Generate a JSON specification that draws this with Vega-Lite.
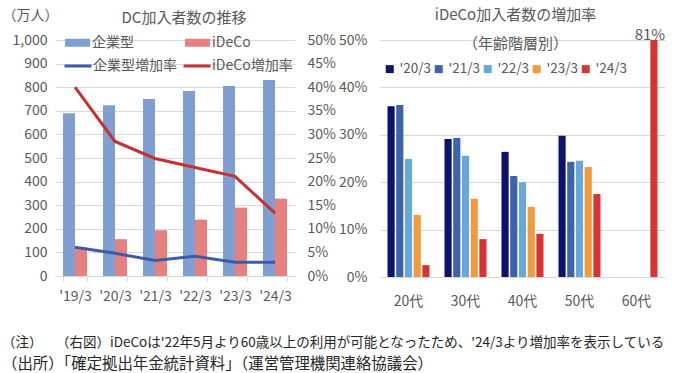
{
  "$schema": "https://vega.github.io/schema/vega-lite/v6.json",
  "padding": {"left": 2, "top": 8, "right": 0, "bottom": 0},
  "config": {
    "font": "Noto Sans CJK JP",
    "view": {"stroke": null},
    "axis": {"labelFontSize": 14, "labelColor": "#595959", "titleColor": "#595959", "titleFontWeight": "normal", "gridColor": "#D9D9D9", "domainColor": "#D9D9D9", "tickColor": "#D9D9D9"},
    "legend": {"labelFontSize": 14, "labelColor": "#595959", "padding": 0, "title": null},
    "title": {"fontWeight": "normal", "color": "#595959", "fontSize": 15}
  },
  "datasets": {
    "dc": [
      {"year": "'19/3", "type": "企業型", "value": 690},
      {"year": "'19/3", "type": "iDeCo", "value": 121},
      {"year": "'20/3", "type": "企業型", "value": 724},
      {"year": "'20/3", "type": "iDeCo", "value": 156},
      {"year": "'21/3", "type": "企業型", "value": 750},
      {"year": "'21/3", "type": "iDeCo", "value": 194},
      {"year": "'22/3", "type": "企業型", "value": 784},
      {"year": "'22/3", "type": "iDeCo", "value": 239},
      {"year": "'23/3", "type": "企業型", "value": 805},
      {"year": "'23/3", "type": "iDeCo", "value": 290},
      {"year": "'24/3", "type": "企業型", "value": 830},
      {"year": "'24/3", "type": "iDeCo", "value": 328}
    ],
    "dcRate": [
      {"year": "'19/3", "series": "企業型増加率", "rate": 0.061},
      {"year": "'20/3", "series": "企業型増加率", "rate": 0.048},
      {"year": "'21/3", "series": "企業型増加率", "rate": 0.033},
      {"year": "'22/3", "series": "企業型増加率", "rate": 0.042},
      {"year": "'23/3", "series": "企業型増加率", "rate": 0.029},
      {"year": "'24/3", "series": "企業型増加率", "rate": 0.029},
      {"year": "'19/3", "series": "iDeCo増加率", "rate": 0.400},
      {"year": "'20/3", "series": "iDeCo増加率", "rate": 0.285},
      {"year": "'21/3", "series": "iDeCo増加率", "rate": 0.249},
      {"year": "'22/3", "series": "iDeCo増加率", "rate": 0.230},
      {"year": "'23/3", "series": "iDeCo増加率", "rate": 0.211},
      {"year": "'24/3", "series": "iDeCo増加率", "rate": 0.133}
    ],
    "age": [
      {"age": "20代", "period": "'20/3", "rate": 0.360},
      {"age": "20代", "period": "'21/3", "rate": 0.363},
      {"age": "20代", "period": "'22/3", "rate": 0.249},
      {"age": "20代", "period": "'23/3", "rate": 0.131},
      {"age": "20代", "period": "'24/3", "rate": 0.025},
      {"age": "30代", "period": "'20/3", "rate": 0.291},
      {"age": "30代", "period": "'21/3", "rate": 0.293},
      {"age": "30代", "period": "'22/3", "rate": 0.256},
      {"age": "30代", "period": "'23/3", "rate": 0.165},
      {"age": "30代", "period": "'24/3", "rate": 0.080},
      {"age": "40代", "period": "'20/3", "rate": 0.264},
      {"age": "40代", "period": "'21/3", "rate": 0.213},
      {"age": "40代", "period": "'22/3", "rate": 0.200},
      {"age": "40代", "period": "'23/3", "rate": 0.148},
      {"age": "40代", "period": "'24/3", "rate": 0.091},
      {"age": "50代", "period": "'20/3", "rate": 0.298},
      {"age": "50代", "period": "'21/3", "rate": 0.243},
      {"age": "50代", "period": "'22/3", "rate": 0.245},
      {"age": "50代", "period": "'23/3", "rate": 0.232},
      {"age": "50代", "period": "'24/3", "rate": 0.175},
      {"age": "60代", "period": "'24/3", "rate": 0.81}
    ]
  },
  "title": {
    "text": "（注）　　（右図）iDeCoは'22年5月より60歳以上の利用が可能となったため、'24/3より増加率を表示している",
    "subtitle": "（出所）「確定拠出年金統計資料」（運営管理機関連絡協議会）",
    "orient": "bottom", "anchor": "start", "frame": "bounds",
    "fontSize": 13.5, "subtitleFontSize": 15.4, "color": "#262626", "subtitleColor": "#262626",
    "subtitleFont": "Noto Sans CJK JP", "offset": 28, "subtitlePadding": 7
  },
  "spacing": 85,
  "bounds": "flush",
  "resolve": {"scale": {"color": "independent", "x": "independent", "y": "independent", "xOffset": "independent"}, "legend": {"color": "independent"}},
  "hconcat": [
    {
      "width": 240,
      "height": 236,
      "title": {"text": "DC加入者数の推移", "dx": 9, "offset": -18},
      "layer": [
        {
          "data": {"name": "dc"},
          "mark": {"type": "bar"},
          "encoding": {
            "x": {"field": "year", "type": "nominal", "scale": {"paddingInner": 0.4, "paddingOuter": 0.2},
                  "axis": {"title": null, "labelAngle": 0, "tickBand": "extent", "tickSize": 5, "labelPadding": 8}},
            "xOffset": {"field": "type", "type": "nominal", "sort": ["企業型", "iDeCo"], "scale": {"paddingInner": 0, "paddingOuter": 0}},
            "y": {"field": "value", "type": "quantitative", "scale": {"domain": [0, 1000]},
                  "axis": {"values": [0, 100, 200, 300, 400, 500, 600, 700, 800, 900, 1000], "format": ",.0f", "domain": false, "ticks": false, "labelPadding": 8,
                           "title": "（万人）", "titleAngle": 0, "titleAlign": "left", "titleBaseline": "middle", "titleX": -53, "titleY": -25, "titleFontSize": 14}},
            "color": {"field": "type", "type": "nominal", "scale": {"domain": ["企業型", "iDeCo"], "range": ["#7F9FD3", "#E88080"]},
                      "legend": {"orient": "none", "legendX": 10, "legendY": -10, "direction": "horizontal", "symbolType": "M-1,-0.32H1V0.32H-1Z", "symbolSize": 625, "symbolStrokeWidth": 0, "labelOffset": 2, "columnPadding": 51}}
          }
        },
        {
          "data": {"name": "dcRate"},
          "mark": {"type": "line", "strokeWidth": 3},
          "encoding": {
            "x": {"field": "year", "type": "nominal"},
            "y": {"field": "rate", "type": "quantitative", "scale": {"domain": [0, 0.5]},
                  "axis": {"orient": "right", "values": [0, 0.05, 0.1, 0.15, 0.2, 0.25, 0.3, 0.35, 0.4, 0.45, 0.5], "format": ".0%", "grid": false, "domain": false, "ticks": false, "labelPadding": 12, "title": null}},
            "stroke": {"field": "series", "type": "nominal", "scale": {"domain": ["企業型増加率", "iDeCo増加率"], "range": ["#3A5DA8", "#C8312F"]},
                       "legend": {"orient": "none", "legendX": 8, "legendY": 11, "direction": "horizontal", "symbolType": "stroke", "symbolSize": 729, "symbolStrokeWidth": 3, "labelOffset": 0, "columnPadding": 0}}
          }
        }
      ],
      "resolve": {"scale": {"y": "independent"}}
    },
    {
      "width": 285,
      "height": 237,
      "title": {"text": ["iDeCo加入者数の増加率", "（年齢階層別）"], "lineHeight": 29, "dx": -7, "offset": -24},
      "data": {"name": "age"},
      "encoding": {
        "x": {"field": "age", "type": "nominal", "scale": {"paddingInner": 0.263, "paddingOuter": 0.1316},
              "axis": {"title": null, "labelAngle": 0, "domain": false, "ticks": false, "labelPadding": 17}},
        "xOffset": {"field": "period", "type": "nominal", "scale": {"paddingInner": 0.18, "paddingOuter": 0}},
        "y": {"field": "rate", "type": "quantitative", "scale": {"domain": [0, 0.5], "clamp": true},
              "axis": {"values": [0, 0.1, 0.2, 0.3, 0.4, 0.5], "format": ".0%", "domain": false, "ticks": false, "labelPadding": 13, "title": null}}
      },
      "layer": [
        {
          "mark": {"type": "bar"},
          "encoding": {
            "color": {"field": "period", "type": "nominal",
                      "scale": {"domain": ["'20/3", "'21/3", "'22/3", "'23/3", "'24/3"], "range": ["#0A1370", "#3C64AC", "#64A8DC", "#F39A3A", "#D93434"]},
                      "legend": {"orient": "none", "legendX": 3, "legendY": 22, "direction": "horizontal", "symbolType": "square", "symbolSize": 64, "symbolStrokeWidth": 0, "labelFontSize": 13.5, "labelOffset": 3, "columnPadding": 0}}
          }
        },
        {
          "transform": [{"filter": "datum.rate > 0.5"}],
          "mark": {"type": "text", "baseline": "alphabetic", "align": "center", "fontSize": 15, "color": "#595959", "dx": -4},
          "encoding": {
            "text": {"field": "rate", "type": "quantitative", "format": ".0%"}
          }
        }
      ]
    }
  ]
}
